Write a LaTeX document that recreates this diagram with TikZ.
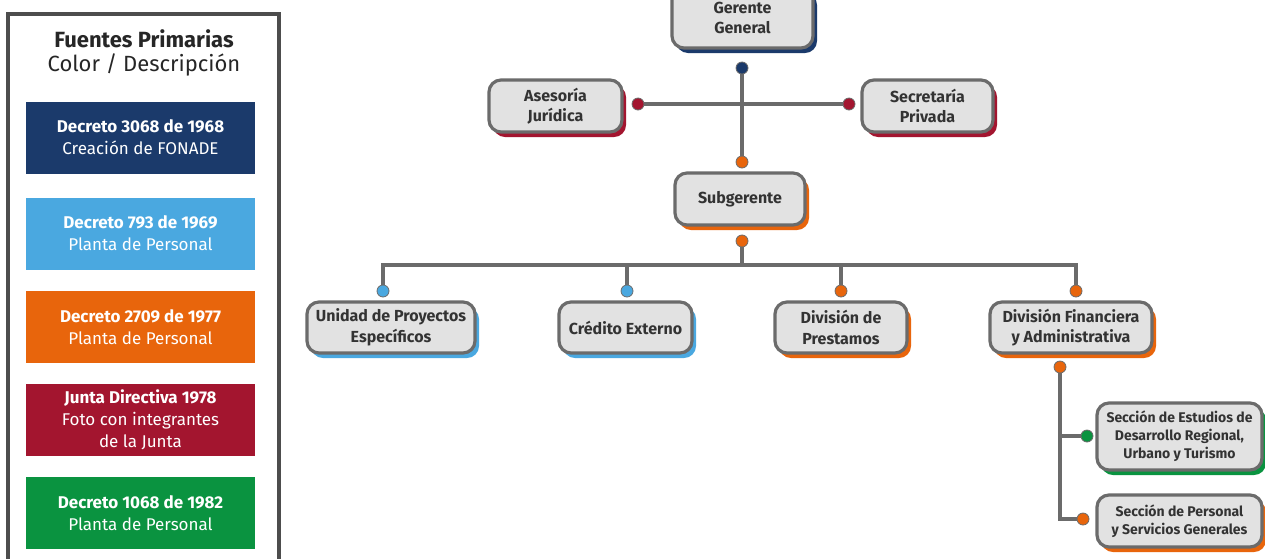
\documentclass[tikz,border=0pt]{standalone}
\usepackage{fontspec}
\setmainfont{Fira Sans}
\usetikzlibrary{shadows,backgrounds,positioning}
\definecolor{navy}{HTML}{1B3A6B}
\definecolor{sky}{HTML}{4AA8E0}
\definecolor{tangerine}{HTML}{E8650C}
\definecolor{crimson}{HTML}{A3152F}
\definecolor{leaf}{HTML}{0A9340}
\definecolor{linegray}{HTML}{6B6B6B}
\definecolor{framegray}{HTML}{4D4D4D}
\definecolor{boxgray}{HTML}{E2E2E2}
\definecolor{inkgray}{HTML}{333333}
\tikzset{
  org/.style={draw=linegray, line width=3.2pt, fill=boxgray, rounded corners=12pt, align=center, inner sep=2pt,
    font=\fontsize{16}{20.5}\selectfont\bfseries, text=inkgray,
    drop shadow={shadow xshift=4pt, shadow yshift=-5pt, fill=#1, opacity=1}},
  small/.style={font=\fontsize{14}{18}\selectfont\bfseries},
  jdot/.style={circle, fill=#1, draw=linegray, line width=0.8pt, minimum size=12pt, inner sep=0pt},
  conn/.style={draw=linegray, line width=3.2pt},
  srcbox/.style={fill=#1, minimum width=229pt, minimum height=72pt, text=white, align=center,
    font=\fontsize{17}{22}\selectfont}
}
\begin{document}
\begin{tikzpicture}[x=1pt, y=-1pt]
  \clip (0,0) rectangle (1265,558);
  % fuentes
  \draw[line width=4pt, draw=framegray] (8,14) rectangle (279,600);
  \node[font=\fontsize{22}{24}\selectfont, text=black!85, align=center] (title) at (144,53)
    {\textbf{Fuentes Primarias}\\Color / Descripción};
  \node[srcbox=navy] (s1) at (140.5,137.5) {\textbf{Decreto 3068 de 1968}\\Creación de FONADE};
  \node[srcbox=sky] (s2) at (140.5,233.5) {\textbf{Decreto 793 de 1969}\\Planta de Personal};
  \node[srcbox=tangerine] (s3) at (140.5,327) {\textbf{Decreto 2709 de 1977}\\Planta de Personal};
  \node[srcbox=crimson] (s4) at (140.5,420) {\textbf{Junta Directiva 1978}\\Foto con integrantes\\de la Junta};
  \node[srcbox=leaf] (s5) at (140.5,513) {\textbf{Decreto 1068 de 1982}\\Planta de Personal};
  % organigrama
  \node[org=navy, minimum width=141pt, minimum height=60pt] (ger) at (742.5,18) {Gerente\\General};
  \node[org=crimson, minimum width=133pt, minimum height=52pt] (ase) at (555.5,106) {Asesoría\\Jurídica};
  \node[org=crimson, minimum width=131pt, minimum height=52pt] (sec) at (927.5,106) {Secretaría\\Privada};
  \node[org=tangerine, minimum width=130pt, minimum height=52pt] (sub) at (740,199) {Subgerente};
  \node[org=sky, minimum width=168pt, minimum height=51pt] (uni) at (391,327.5) {Unidad de Proyectos\\Específicos};
  \node[org=sky, minimum width=133pt, minimum height=51pt] (cre) at (625.5,327.5) {Crédito Externo};
  \node[org=tangerine, minimum width=132pt, minimum height=51pt] (pre) at (841,327.5) {División de\\Prestamos};
  \node[org=tangerine, minimum width=162pt, minimum height=51pt] (fin) at (1071,327.5) {División Financiera\\y Administrativa};
  \node[org=leaf, small, minimum width=165pt, minimum height=67pt] (est) at (1179.5,436.5) {Sección de Estudios de\\Desarrollo Regional,\\Urbano y Turismo};
  \node[org=tangerine, small, minimum width=165pt, minimum height=52pt] (per) at (1179.5,521) {Sección de Personal\\y Servicios Generales};
  % puntos
  \node[jdot=navy] (dger) at (742,68) {};
  \node[jdot=crimson] (dase) at (638,104) {};
  \node[jdot=crimson] (dsec) at (849,104) {};
  \node[jdot=tangerine] (dsub) at (742,162) {};
  \node[jdot=tangerine] (dsubb) at (742,241) {};
  \node[jdot=sky] (duni) at (383,291) {};
  \node[jdot=sky] (dcre) at (627,291) {};
  \node[jdot=tangerine] (dpre) at (841,291) {};
  \node[jdot=tangerine] (dfin) at (1076,291) {};
  \node[jdot=tangerine] (dfinb) at (1060,367) {};
  \node[jdot=leaf] (dest) at (1087,436) {};
  \node[jdot=tangerine] (dper) at (1083,519) {};
  \coordinate (bus) at (742,265);
  \begin{scope}[on background layer]
    \fill[white] (0,0) rectangle (1265,558);
    \draw[conn] (dger) -- (dsub);
    \draw[conn] (dase) -- (dsec);
    \draw[conn] (dsubb) -- (bus);
    \draw[conn] (duni) -- (duni |- bus) -- (dfin |- bus) -- (dfin);
    \draw[conn] (dcre) -- (dcre |- bus);
    \draw[conn] (dpre) -- (dpre |- bus);
    \draw[conn] (dfinb) |- (dper);
    \draw[conn] (dfinb |- dest) -- (dest);
  \end{scope}
\end{tikzpicture}
\end{document}
